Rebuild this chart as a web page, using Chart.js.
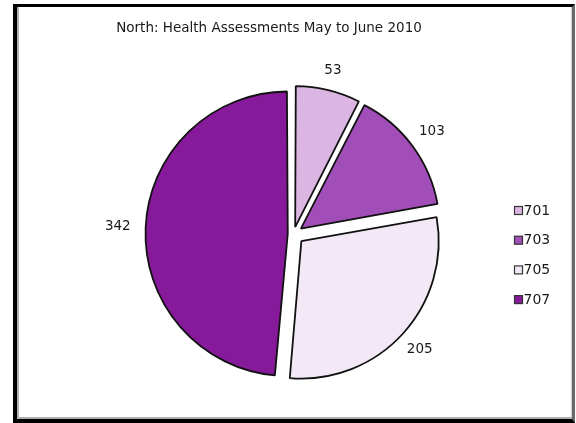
<!DOCTYPE html>
<html>
<head>
<meta charset="utf-8">
<script src="https://cdn.jsdelivr.net/npm/chart.js@4/dist/chart.umd.min.js"></script>
<style>
html,body{margin:0;padding:0;background:#fff;}
#wrap{position:relative;width:576px;height:423px;overflow:hidden;}
#frame{position:absolute;left:13px;top:4px;width:562px;height:419px;box-sizing:border-box;
  border-left:4px solid #000;border-top:3px solid #000;border-bottom:4px solid #000;border-right:3px solid #6a6a6a;
  box-shadow:inset 2px 0 0 #b0b0b0, inset 0 -2px 0 #b0b0b0, inset -1px 0 0 #d0d0d0;}
canvas{position:absolute;left:0;top:0;}
</style>
</head>
<body>
<div id="wrap">
<div id="frame"></div>
<canvas id="c" width="576" height="423"></canvas>
</div>
<script>
const titleText = 'North: Health Assessments May to June 2010';
const categories = ['701', '703', '705', '707'];
const values = [53, 103, 205, 342];
const sliceColors = ['#DBB6E2', '#A24EB8', '#F3E9F6', '#861A9B'];

const FONT = '"DejaVu Sans", sans-serif';
const EXPLODE = 11;

const decorPlugin = {
  id: 'decor',
  afterDatasetsDraw(chart) {
    const ctx = chart.ctx;
    const meta = chart.getDatasetMeta(0);
    ctx.save();
    ctx.font = '13.5px ' + FONT;
    ctx.fillStyle = '#1a1a1a';
    ctx.textAlign = 'center';
    ctx.textBaseline = 'middle';
    meta.data.forEach((arc, i) => {
      const p = arc.getProps(['x', 'y', 'startAngle', 'endAngle', 'outerRadius']);
      const mid = (p.startAngle + p.endAngle) / 2;
      const txt = String(values[i]);
      const hw = ctx.measureText(txt).width / 2 + 1;
      const hh = 6;
      const c = Math.cos(mid), s = Math.sin(mid);
      const ext = Math.min(Math.abs(c) > 1e-6 ? hw / Math.abs(c) : 1e9, Math.abs(s) > 1e-6 ? hh / Math.abs(s) : 1e9);
      const d = p.outerRadius + EXPLODE + 14 + ext;
      ctx.fillText(txt, p.x + c * d, p.y + s * d);
    });
    ctx.restore();
  },
  afterDraw(chart) {
    const ctx = chart.ctx;
    ctx.save();
    // title
    ctx.font = '13.5px ' + FONT;
    ctx.fillStyle = '#1a1a1a';
    ctx.textAlign = 'center';
    ctx.textBaseline = 'middle';
    ctx.fillText(titleText, 269, 28);
    // legend
    ctx.font = '14px ' + FONT;
    ctx.textAlign = 'left';
    categories.forEach((cat, i) => {
      const y = 211 + i * 29.7;
      ctx.fillStyle = sliceColors[i];
      ctx.fillRect(514.5, y - 4.5, 8, 8);
      ctx.strokeStyle = '#333';
      ctx.lineWidth = 1.2;
      ctx.strokeRect(514.5, y - 4.5, 8, 8);
      ctx.fillStyle = '#1a1a1a';
      ctx.fillText(cat, 523.5, y);
    });
    ctx.restore();
  }
};

new Chart(document.getElementById('c'), {
  type: 'pie',
  data: {
    labels: categories,
    datasets: [{
      data: values,
      backgroundColor: sliceColors,
      borderColor: '#111',
      borderWidth: 1.8,
      radius: 137,
      offset: (ctx) => {
        const data = ctx.dataset.data;
        const total = data.reduce((a, b) => a + b, 0);
        const circ = data[ctx.dataIndex] / total * Math.PI * 2;
        const fix = 1 - Math.sin(Math.min(Math.PI, circ));
        return 4 * EXPLODE / (1 + fix);
      }
    }]
  },
  options: {
    responsive: false,
    animation: false,
    events: [],
    layout: { padding: { left: 159, right: 148, top: 45, bottom: 0 } },
    plugins: {
      legend: { display: false },
      title: { display: false },
      tooltip: { enabled: false }
    }
  },
  plugins: [decorPlugin]
});
</script>
</body>
</html>
